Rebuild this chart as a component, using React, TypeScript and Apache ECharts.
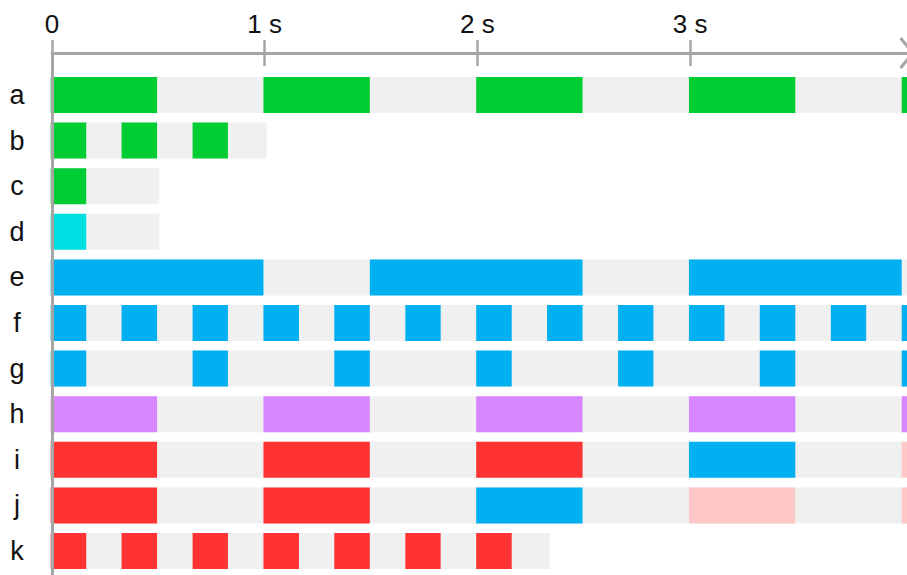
import React, { useEffect, useRef } from "react";
import * as echarts from "echarts";

// ---- data ----
const rowNames = ["a", "b", "c", "d", "e", "f", "g", "h", "i", "j", "k"];
const tickValues = [0, 1, 2, 3];
const tickLabels = ["0", "1 s", "2 s", "3 s"];

// end of the light grey track of each row (seconds)
const trackEnds = [4.5, 1.015, 0.51, 0.51, 4.5, 4.5, 4.5, 4.5, 4.5, 4.5, 2.345];

// coloured segments per row: [start s, end s, colour key]
const rowA = [[0, 0.5, "green"], [1, 1.5, "green"], [2, 2.5, "green"], [3, 3.5, "green"], [4, 4.5, "green"]];
const rowB = [[0, 0.167, "green"], [0.333, 0.5, "green"], [0.667, 0.833, "green"]];
const rowC = [[0, 0.167, "green"]];
const rowD = [[0, 0.167, "cyan"]];
const rowE = [[0, 1, "blue"], [1.5, 2.5, "blue"], [3, 4, "blue"]];
const rowF = [
  [0, 0.167, "blue"], [0.333, 0.5, "blue"], [0.667, 0.833, "blue"], [1, 1.167, "blue"],
  [1.333, 1.5, "blue"], [1.667, 1.833, "blue"], [2, 2.167, "blue"], [2.333, 2.5, "blue"],
  [2.667, 2.833, "blue"], [3, 3.167, "blue"], [3.333, 3.5, "blue"], [3.667, 3.833, "blue"],
  [4, 4.167, "blue"],
];
const rowG = [
  [0, 0.167, "blue"], [0.667, 0.833, "blue"], [1.333, 1.5, "blue"], [2, 2.167, "blue"],
  [2.667, 2.833, "blue"], [3.333, 3.5, "blue"], [4, 4.167, "blue"],
];
const rowH = [[0, 0.5, "purple"], [1, 1.5, "purple"], [2, 2.5, "purple"], [3, 3.5, "purple"], [4, 4.5, "purple"]];
const rowI = [[0, 0.5, "red"], [1, 1.5, "red"], [2, 2.5, "red"], [3, 3.5, "blue"], [4, 4.5, "pink"]];
const rowJ = [[0, 0.5, "red"], [1, 1.5, "red"], [2, 2.5, "blue"], [3, 3.5, "pink"], [4, 4.5, "pink"]];
const rowK = [
  [0, 0.167, "red"], [0.333, 0.5, "red"], [0.667, 0.833, "red"], [1, 1.167, "red"],
  [1.333, 1.5, "red"], [1.667, 1.833, "red"], [2, 2.167, "red"],
];
const rowSegments = [rowA, rowB, rowC, rowD, rowE, rowF, rowG, rowH, rowI, rowJ, rowK];

// ---- styles ----
const palette: Record<string, string> = {
  green: "#00cc33",
  cyan: "#00e0e2",
  blue: "#00b0f0",
  purple: "#d886ff",
  red: "#ff3334",
  pink: "#fec8c8",
  track: "#f0f0f0",
};
const AXIS_COLOR = "#a6a6a6";
const BAR_H = 36;
const FONT = "'Liberation Sans', Arial, sans-serif";

export default function App() {
  const ref = useRef<HTMLDivElement>(null);

  useEffect(() => {
    if (!ref.current) return;
    const chart = echarts.init(ref.current, undefined, { renderer: "svg" });

    const data: any[] = [];
    trackEnds.forEach((end, i) => {
      data.push({ value: [0, end, i], itemStyle: { color: palette.track } });
    });
    rowSegments.forEach((segs, i) => {
      segs.forEach((s: any) => {
        data.push({ value: [s[0], s[1], i], itemStyle: { color: palette[s[2]] } });
      });
    });

    const option: any = {
      animation: false,
      backgroundColor: "#ffffff",
      grid: [
        { left: 52, right: 0, top: 53, bottom: 0 },
        { left: 50.7, right: 0, top: 72.2, bottom: 1.2 },
        { left: 52, right: 0, top: 53, bottom: 0 },
      ],
      xAxis: [
        {
          gridIndex: 0,
          type: "value",
          position: "top",
          min: 0,
          max: 4.02,
          z: 10,
          axisLine: { show: true, onZero: false, lineStyle: { color: AXIS_COLOR, width: 3 } },
          axisTick: {
            show: true,
            length: 13,
            customValues: tickValues,
            lineStyle: { color: AXIS_COLOR, width: 2.5 },
          },
          axisLabel: {
            show: true,
            customValues: tickValues,
            margin: 16,
            fontSize: 26,
            fontFamily: FONT,
            color: "#111111",
            formatter: (v: number) => {
              const idx = tickValues.indexOf(v);
              return idx >= 0 ? tickLabels[idx] : "";
            },
          },
          splitLine: { show: false },
        },
        {
          gridIndex: 1,
          type: "value",
          min: 0,
          max: 4.025,
          show: false,
          splitLine: { show: false },
        },
        {
          gridIndex: 2,
          type: "value",
          position: "top",
          min: 0,
          max: 4.02,
          z: 10,
          axisLine: { show: false, onZero: false },
          axisTick: {
            show: true,
            inside: true,
            length: 13,
            customValues: tickValues,
            lineStyle: { color: AXIS_COLOR, width: 2.5 },
          },
          axisLabel: { show: false },
          splitLine: { show: false },
        },
      ],
      yAxis: [
        {
          gridIndex: 0,
          type: "value",
          min: 0,
          max: 1,
          z: 10,
          axisLine: { show: true, onZero: false, lineStyle: { color: AXIS_COLOR, width: 3 } },
          axisTick: { show: false },
          axisLabel: { show: false },
          splitLine: { show: false },
        },
        {
          gridIndex: 1,
          type: "category",
          inverse: true,
          data: rowNames,
          axisLine: { show: false },
          axisTick: { show: false },
          splitLine: { show: false },
          axisLabel: {
            show: true,
            align: "center",
            margin: 33.7,
            fontSize: 27,
            fontFamily: FONT,
            color: "#111111",
          },
        },
        {
          gridIndex: 2,
          type: "value",
          min: 0,
          max: 1,
          show: false,
          splitLine: { show: false },
        },
      ],
      graphic: [
        {
          type: "polyline",
          shape: { points: [[900.5, 38], [912.8, 53], [900.5, 68]] },
          style: { stroke: AXIS_COLOR, lineWidth: 3, fill: "none" },
          z: 10,
        },
      ],
      series: [
        {
          type: "custom",
          xAxisIndex: 1,
          yAxisIndex: 1,
          encode: { x: [0, 1], y: 2 },
          renderItem: (params: any, api: any) => {
            const row = api.value(2);
            const p0 = api.coord([api.value(0), row]);
            const p1 = api.coord([api.value(1), row]);
            return {
              type: "rect",
              shape: { x: p0[0], y: p0[1] - BAR_H / 2, width: p1[0] - p0[0], height: BAR_H },
              style: { fill: api.visual("color") },
            };
          },
          data,
        },
      ],
    };

    chart.setOption(option);
    return () => chart.dispose();
  }, []);

  return (
    <div
      ref={ref}
      style={{ position: "absolute", left: 0, top: 0, width: 907, height: 575 }}
    />
  );
}
